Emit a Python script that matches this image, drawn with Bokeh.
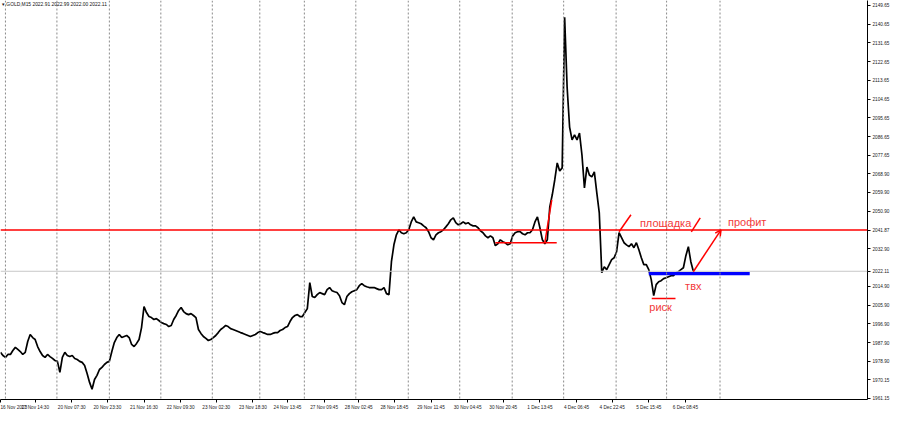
from bokeh.plotting import figure
from bokeh.models import Range1d, FixedTicker, Span, Label, Arrow, OpenHead, PrintfTickFormatter
from bokeh.embed import file_html
from bokeh.resources import INLINE

# ---------------- data ----------------
symbol = "GOLD,M15"
last_ohlc = ["2022.91", "2022.99", "2022.00", "2022.11"]

# closes, one sample per time slot (M15 chart, sampled)
closes = [
    1983.2, 1981.7, 1980.8, 1982.2, 1982.2, 1984.1, 1985.6, 1984.6, 1983.6, 1982.2,
    1983.2, 1988.4, 1991.8, 1990.3, 1989.4, 1986.0, 1983.6, 1981.7, 1980.8, 1982.2,
    1981.2, 1980.3, 1979.3, 1978.9, 1973.6, 1980.8, 1983.2, 1981.7, 1981.2, 1981.7,
    1980.3, 1979.8, 1978.9, 1978.4, 1976.9, 1973.1, 1968.8, 1965.5, 1970.2, 1972.2,
    1975.0, 1976.0, 1977.4, 1978.4, 1978.9, 1983.6, 1987.9, 1990.3, 1991.8, 1990.3,
    1990.8, 1991.3, 1990.3, 1987.0, 1986.0, 1987.5, 1989.4, 1995.1, 2005.2, 2002.3,
    2000.4, 1999.9, 1999.0, 1999.4, 1998.5, 1997.5, 1997.0, 1996.6, 1995.6, 1996.1,
    1999.0, 2000.9, 2003.3, 2004.7, 2002.8, 2001.8, 2001.3, 2001.8, 2000.9, 1999.9,
    1994.2, 1992.3, 1990.8, 1989.9, 1988.9, 1989.4, 1990.3, 1991.3, 1992.7, 1994.2,
    1995.1, 1996.1, 1995.6, 1994.6, 1994.2, 1993.7, 1993.2, 1992.7, 1992.3, 1991.8,
    1991.3, 1990.8, 1991.3, 1991.8, 1992.7, 1993.2, 1992.7, 1992.3, 1991.8, 1991.8,
    1992.3, 1992.7, 1992.7, 1993.7, 1994.2, 1995.1, 1995.6, 1998.0, 1999.9, 2000.9,
    2001.3, 2000.4, 2000.4, 2002.3, 2004.2, 2016.7, 2010.0, 2009.5, 2010.9, 2011.9,
    2011.4, 2010.9, 2013.3, 2014.3, 2012.8, 2012.3, 2011.9, 2010.4, 2007.1, 2006.1,
    2010.0, 2011.4, 2012.3, 2012.8, 2013.3, 2015.2, 2016.2, 2015.2, 2014.7, 2014.3,
    2014.3, 2014.3, 2013.8, 2013.3, 2013.3, 2014.3, 2011.4, 2010.9, 2026.7, 2034.8,
    2039.6, 2042.0, 2040.6, 2040.1, 2040.6, 2042.0, 2045.8, 2048.2, 2045.8, 2045.4,
    2044.9, 2043.9, 2043.0, 2041.1, 2038.2, 2037.2, 2039.6, 2040.6, 2041.1, 2042.0,
    2043.4, 2044.9, 2046.8, 2047.7, 2045.4, 2044.4, 2044.9, 2045.8, 2044.9, 2045.4,
    2044.4, 2043.9, 2043.9, 2043.0, 2041.5, 2040.6, 2039.1, 2038.2, 2039.1, 2038.2,
    2034.4, 2035.3, 2037.2, 2036.3, 2035.8, 2034.8, 2035.3, 2039.1, 2040.6, 2041.1,
    2041.1, 2040.1, 2039.6, 2040.6, 2040.6, 2042.0, 2045.8, 2048.2, 2043.0, 2037.2,
    2035.3, 2037.2, 2053.0, 2058.8, 2065.9, 2074.1, 2070.2, 2071.7, 2143.9, 2110.4,
    2091.3, 2085.1, 2087.5, 2085.1, 2088.4, 2077.9, 2062.1, 2072.1, 2068.3, 2067.4,
    2069.8, 2059.7, 2050.1, 2021.4, 2024.3, 2022.9, 2025.3, 2027.7, 2028.6, 2031.5,
    2040.6, 2038.2, 2035.8, 2034.8, 2033.9, 2035.3, 2033.4, 2035.8, 2032.4, 2028.6,
    2025.3, 2025.3, 2022.9, 2018.1, 2010.4, 2015.7, 2017.1, 2017.6, 2018.6, 2019.0,
    2019.5, 2020.0, 2020.0, 2021.4, 2021.9, 2022.9, 2023.8, 2029.6, 2033.9, 2026.7,
    2022.1,
]
slots = list(range(len(closes)))
x_end = 350.4          # right edge of the chart window, in time slots (chart shift)
y_low, y_high = 1960.6, 2152.0

platform_level = 2041.87
last_price = 2022.11

# regular price scale labels plus the two price tags (level line and last price)
price_ticks = [2149.65, 2140.65, 2131.65, 2122.65, 2113.65, 2104.65, 2095.65, 2086.65,
               2077.65, 2068.90, 2059.90, 2050.90, platform_level, 2032.90, last_price,
               2014.90, 2005.90, 1996.90, 1987.90, 1978.90, 1970.15, 1961.15]

time_ticks = [0, 14.0, 28.8, 43.2, 58.0, 72.8, 87.2, 102.0, 116.0, 130.8, 144.8, 159.2,
              174.0, 188.8, 203.2, 218.0, 232.8, 247.2, 262.0, 276.8]
time_labels = ["16 Nov 2023", "17 Nov 14:30", "20 Nov 07:30", "20 Nov 23:30", "21 Nov 16:30",
               "22 Nov 09:30", "23 Nov 02:30", "23 Nov 18:30", "24 Nov 13:45", "27 Nov 09:45",
               "28 Nov 02:45", "28 Nov 18:45", "29 Nov 11:45", "30 Nov 04:45", "30 Nov 20:45",
               "1 Dec 13:45", "4 Dec 06:45", "4 Dec 22:45", "5 Dec 15:45", "6 Dec 08:45"]

day_separators = [2.0, 22.8, 44.0, 64.8, 85.6, 104.8, 122.8, 143.6, 164.8, 185.6, 206.8,
                  227.6, 248.8, 269.2, 290.8]

# hand-drawn analysis objects: (slot, price)
box_line_x = [200.0, 224.8]
box_line_y = [2035.8, 2035.8]
breakout_x = [220.0, 222.8]
breakout_y = [2035.8, 2056.4]
slash1_x = [250.0, 254.8]
slash1_y = [2041.05, 2049.2]
slash2_x = [279.2, 282.8]
slash2_y = [2041.05, 2047.7]
entry_x = [262.0, 302.8]
entry_y = [2020.95, 2020.95]
risk_x = [263.2, 272.8]
risk_y = [2009.0, 2009.0]
target_start = (280.0, 2021.9)
target_end = (291.2, 2042.0)

notes = [
    ("площадка", 268.8, 2045.4, "center"),
    ("профит", 294.0, 2045.8, "left"),
    ("твх", 280.0, 2015.2, "center"),
    ("риск", 266.8, 2005.1, "center"),
]

# ---------------- figure ----------------
RED = "#ff0000"
NOTE_RED = "#f23a3a"
TICK_FONT = "4.7px"

p = figure(width=892, height=412, output_backend="svg", toolbar_location=None,
           x_range=Range1d(0, x_end), y_range=Range1d(y_low, y_high),
           y_axis_location="right", min_border_left=0, min_border_top=0,
           min_border_right=0, min_border_bottom=0)
p.outline_line_color = None
p.grid.visible = False
p.background_fill_color = "white"
p.border_fill_color = "white"

# axes
yax = p.yaxis[0]
yax.axis_label = None
yax.ticker = FixedTicker(ticks=price_ticks)
yax.formatter = PrintfTickFormatter(format="%.2f")
yax.major_label_text_font_size = TICK_FONT
yax.major_label_text_font = "Liberation Sans"
yax.major_label_text_color = "#222222"
yax.major_label_standoff = 2
yax.axis_label_standoff = 0
yax.major_tick_out = 3
yax.major_tick_in = 0
yax.minor_tick_out = 0
yax.minor_tick_in = 0
yax.axis_line_color = "black"
yax.major_tick_line_color = "black"

xax = p.xaxis[0]
xax.axis_label = None
xax.ticker = FixedTicker(ticks=time_ticks)
xax.major_label_overrides = {t: lab for t, lab in zip(time_ticks, time_labels)}
xax.major_label_text_font_size = TICK_FONT
xax.major_label_text_font = "Liberation Sans"
xax.major_label_text_color = "#222222"
xax.major_label_text_align = "left"
xax.major_label_standoff = 2
xax.axis_label_standoff = 0
xax.major_tick_out = 3
xax.major_tick_in = 0
xax.minor_tick_out = 0
xax.minor_tick_in = 0
xax.axis_line_color = "black"
xax.major_tick_line_color = "black"

# day separators
for d in day_separators:
    p.add_layout(Span(location=d, dimension="height", line_color="#8a8a8a",
                      line_width=1, line_dash="2 2"))

# bid line and level line
p.add_layout(Span(location=last_price, dimension="width", line_color="#c8c8c8", line_width=1))
p.add_layout(Span(location=platform_level, dimension="width", line_color=RED, line_width=1.5))

# price
p.line(slots, closes, line_color="black", line_width=1.7)

# analysis drawings
p.line(entry_x, entry_y, line_color="#0000ff", line_width=3.2)
p.line(box_line_x, box_line_y, line_color=RED, line_width=1.5)
p.line(breakout_x, breakout_y, line_color=RED, line_width=1.5)
p.line(slash1_x, slash1_y, line_color=RED, line_width=1.5)
p.line(slash2_x, slash2_y, line_color=RED, line_width=1.5)
p.line(risk_x, risk_y, line_color=RED, line_width=1.5)
p.add_layout(Arrow(end=OpenHead(size=6, line_color=RED, line_width=1.5),
                   x_start=target_start[0], y_start=target_start[1],
                   x_end=target_end[0], y_end=target_end[1],
                   line_color=RED, line_width=1.5))

for txt, tx, ty, al in notes:
    p.add_layout(Label(x=tx, y=ty, text=txt, text_color=NOTE_RED, text_font="Liberation Sans",
                       text_font_size="11px", text_align=al, text_baseline="middle"))

# title in the corner
p.add_layout(Label(x=0.6, y=2150.1, text="\u25be " + symbol + "  " + " ".join(last_ohlc),
                   text_color="#111111", text_font="Liberation Sans", text_font_size="4.9px",
                   text_baseline="middle"))

open("out.html", "w").write(file_html(p, INLINE))
